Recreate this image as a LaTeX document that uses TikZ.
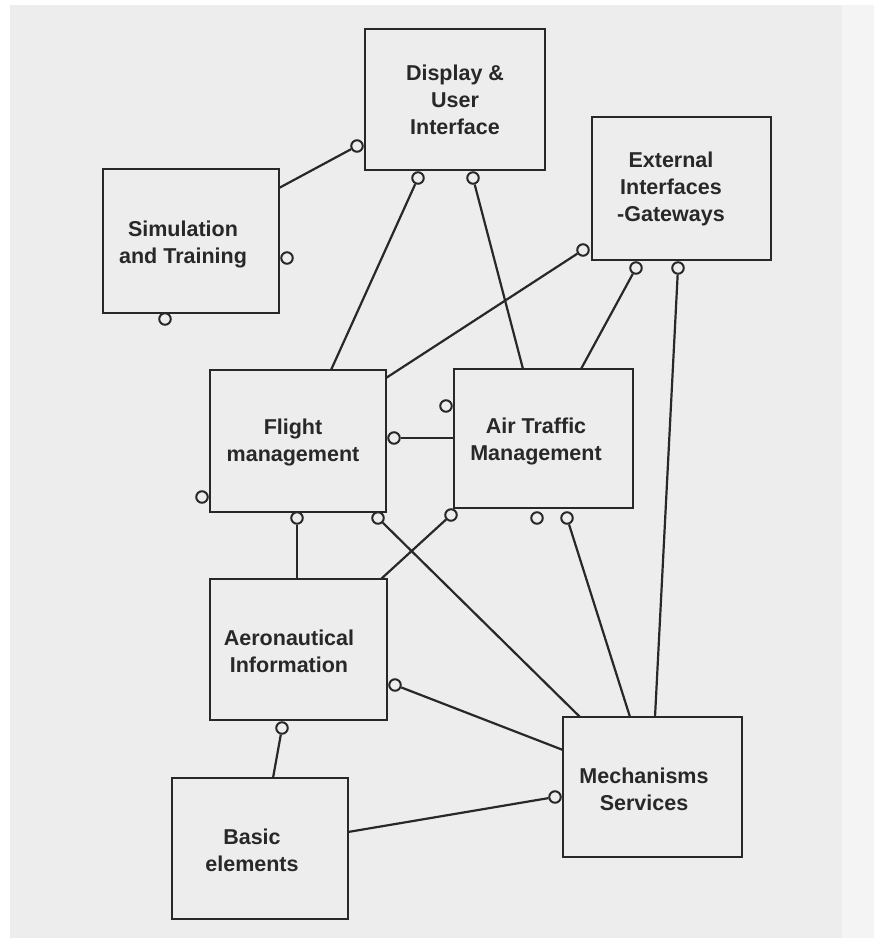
\documentclass[tikz,border=0pt]{standalone}
\usepackage{fontspec}
\setmainfont{Liberation Sans}
\usetikzlibrary{calc}
\definecolor{paper}{RGB}{237,237,237}
\definecolor{ink}{RGB}{40,40,40}
\begin{document}
\begin{tikzpicture}[x=1pt,y=-1pt,
  module/.style={draw=ink,line width=2.3pt,fill=paper,inner sep=0pt},
  caption/.style={text=ink,font=\bfseries\fontsize{21.5}{27}\selectfont,align=center,inner sep=0pt},
  port/.style={circle,draw=ink,line width=2pt,fill=paper,inner sep=0pt,minimum size=11.5pt},
  link/.style={draw=ink,line width=2.2pt}]
% paper
\fill[white] (0,0) rectangle (874,941);
\fill[paper] (10,5) rectangle (874,938);
\fill[paper!60!white] (842,5) rectangle (874,938);
\useasboundingbox (0,0) rectangle (874,941);

% modules
\node[module,minimum width=180pt,minimum height=141pt] (disp) at (455,99.5) {};
\node[module,minimum width=176pt,minimum height=144pt] (sim)  at (191,241) {};
\node[module,minimum width=179pt,minimum height=143pt] (ext)  at (681.5,188.5) {};
\node[module,minimum width=176pt,minimum height=142pt] (flm)  at (298,441) {};
\node[module,minimum width=179pt,minimum height=139pt] (atm)  at (543.5,438.5) {};
\node[module,minimum width=177pt,minimum height=141pt] (aero) at (298.5,649.5) {};
\node[module,minimum width=176pt,minimum height=141pt] (basic) at (260,848.5) {};
\node[module,minimum width=179pt,minimum height=140pt] (mech) at (652.5,787) {};

% captions
\node[caption] (disp-t)  at (455,100) {Display \&\\User\\Interface};
\node[caption] (sim-t)   at (183,244) {Simulation\\and Training};
\node[caption] (ext-t)   at (671,189) {External\\Interfaces\\-Gateways};
\node[caption] (flm-t)   at (293,442.5) {Flight\\management};
\node[caption] (atm-t)   at (536,441.5) {Air Traffic\\Management};
\node[caption] (aero-t)  at (289,651.5) {Aeronautical\\Information};
\node[caption] (basic-t) at (252,850) {Basic\\elements};
\node[caption] (mech-t)  at (644,789) {Mechanisms\\Services};

% points where links meet module edges
\coordinate (sim-ne)   at (279,188);
\coordinate (flm-n)    at (331,370);
\coordinate (flm-ne)   at (386,378);
\coordinate (atm-n1)   at (523,369);
\coordinate (atm-n2)   at (581,369);
\coordinate (atm-w)    at (454,438);
\coordinate (aero-n1)  at (297,579);
\coordinate (aero-ne)  at (381,579);
\coordinate (basic-n)  at (273,778);
\coordinate (basic-e)  at (348,832);
\coordinate (mech-nw)  at (580,717);
\coordinate (mech-n1)  at (630,717);
\coordinate (mech-n2)  at (655,717);
\coordinate (mech-w)   at (563,750);

% ports
\node[port] (disp-pw)  at (357,146) {};
\node[port] (disp-ps1) at (418,178) {};
\node[port] (disp-ps2) at (473,178) {};
\node[port] (sim-pe)   at (287,258) {};
\node[port] (sim-ps)   at (165,319) {};
\node[port] (ext-pw)   at (583,250) {};
\node[port] (ext-ps1)  at (636,268) {};
\node[port] (ext-ps2)  at (678,268) {};
\node[port] (flm-pe)   at (394,438) {};
\node[port] (flm-pw)   at (202,497) {};
\node[port] (flm-ps1)  at (297,518) {};
\node[port] (flm-ps2)  at (378,518) {};
\node[port] (atm-pw)   at (446,406) {};
\node[port] (atm-ps1)  at (451,515) {};
\node[port] (atm-ps2)  at (537,518) {};
\node[port] (atm-ps3)  at (567,518) {};
\node[port] (aero-pe)  at (395,685) {};
\node[port] (aero-ps)  at (282,728) {};
\node[port] (mech-pw)  at (555,797) {};

% links, from module edge to port
\draw[link] (sim-ne) -- (disp-pw);
\draw[link] (flm-n) -- (disp-ps1);
\draw[link] (atm-n1) -- (disp-ps2);
\draw[link] (flm-ne) -- (ext-pw);
\draw[link] (atm-n2) -- (ext-ps1);
\draw[link] (mech-n2) -- (ext-ps2);
\draw[link] (atm-w) -- (flm-pe);
\draw[link] (aero-n1) -- (flm-ps1);
\draw[link] (mech-nw) -- (flm-ps2);
\draw[link] (aero-ne) -- (atm-ps1);
\draw[link] (mech-n1) -- (atm-ps3);
\draw[link] (mech-w) -- (aero-pe);
\draw[link] (basic-n) -- (aero-ps);
\draw[link] (basic-e) -- (mech-pw);
\end{tikzpicture}
\end{document}
